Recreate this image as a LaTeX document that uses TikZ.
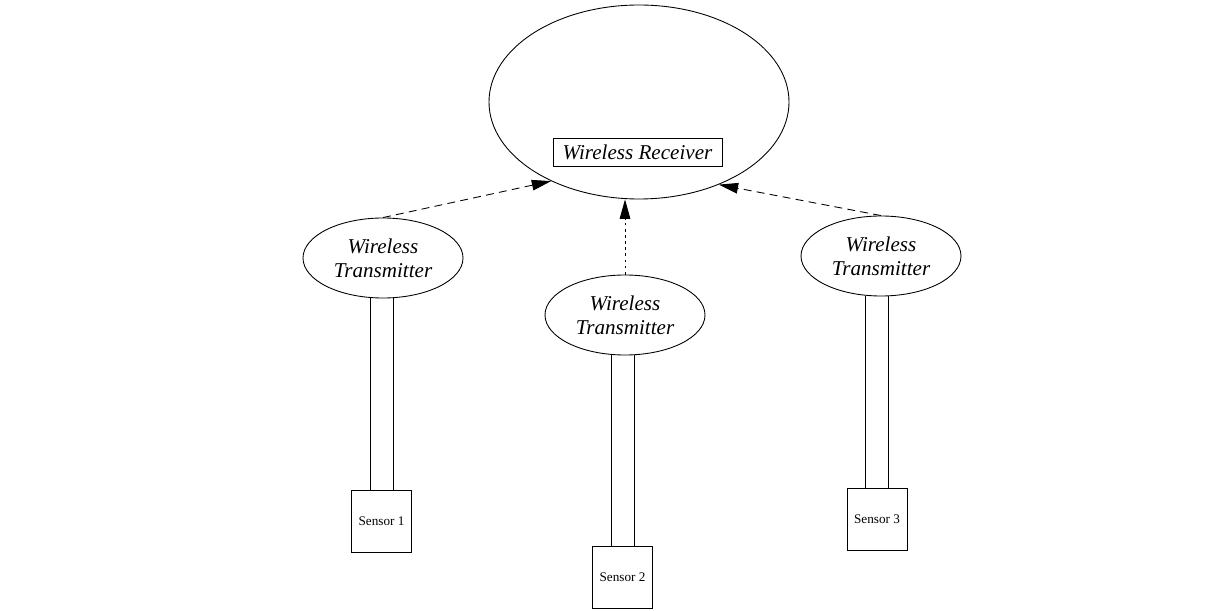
\documentclass[tikz,border=0pt]{standalone}
\usepackage{fontspec}
\setmainfont{Liberation Serif}
\usepackage{tikz}
\usetikzlibrary{positioning,arrows.meta,shapes.geometric}

\begin{document}
\begin{tikzpicture}[
  every path/.style={line width=0.5pt},
  recv/.style={draw, ellipse, minimum width=6cm, minimum height=3.88cm, inner sep=0pt},
  lbl/.style={draw, rectangle, minimum width=3.38cm, minimum height=0.56cm, inner sep=1pt,
              font=\fontsize{12}{13.6}\selectfont\itshape},
  trans/.style={draw, ellipse, minimum width=3.2cm, minimum height=1.6cm, inner sep=0pt,
                align=center, font=\fontsize{12}{13.6}\selectfont\itshape},
  sensor/.style={draw, rectangle, minimum width=1.2cm, minimum height=1.24cm,
                 font=\fontsize{7.5}{9}\selectfont},
  link/.style={-{Triangle[length=11pt,width=6pt]}, dash pattern=on 4.5pt off 3pt},
  linkdot/.style={-{Triangle[length=11pt,width=6pt]}, dash pattern=on 1.5pt off 2pt}
]
  \useasboundingbox (0,0) rectangle (24.22,-12.22);

  % Receiver
  \node[recv] (rx) at (12.78,-2.04) {};
  \node[lbl] (rxl) at (12.75,-3.04) {Wireless Receiver};

  % Transmitters
  \node[trans] (t1) at (7.66,-5.16) {Wireless\\Transmitter};
  \node[trans] (t2) at (12.5,-6.3) {Wireless\\Transmitter};
  \node[trans] (t3) at (17.62,-5.12) {Wireless\\Transmitter};

  % Sensors
  \node[sensor] (s1) at (7.63,-10.42) {Sensor 1};
  \node[sensor] (s2) at (12.45,-11.54) {Sensor 2};
  \node[sensor] (s3) at (17.54,-10.38) {Sensor 3};

  % Cables
  \foreach \s/\t in {s1/t1,s2/t2,s3/t3}
    \foreach \dx in {-0.23,0.23}
      \draw ([xshift=\dx cm]\s.north) -- ([xshift=\dx cm]\s.north |- \t.south);

  \draw[link] (t1.north) -- (rx.222);
  \draw[linkdot] (t2.north) -- (t2.north |- rx.south);
  \draw[link] (t3.north) -- (rx.314);
\end{tikzpicture}
\end{document}
